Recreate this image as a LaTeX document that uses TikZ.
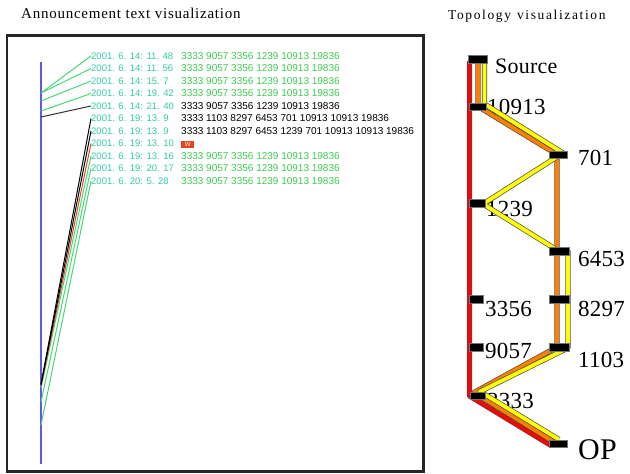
\documentclass[tikz,border=0pt]{standalone}
\usepackage{fontspec}
\setmainfont{Liberation Serif}
\newfontfamily\rowfont{Liberation Sans}
\newfontfamily\headfont[LetterSpace=5]{Liberation Serif}
\newfontfamily\topofont[LetterSpace=12]{Liberation Serif}
\newfontfamily\asfont[LetterSpace=1]{Liberation Serif}
\usetikzlibrary{calc}

\definecolor{datecol}{HTML}{2FCBA6}
\definecolor{routegreen}{HTML}{3CCB50}
\definecolor{linkgreen}{HTML}{44D874}
\definecolor{axisblue}{HTML}{5A5AF0}
\definecolor{wdred}{HTML}{E8431E}
\definecolor{bandred}{HTML}{FF0000}
\definecolor{bandorange}{HTML}{FF8000}
\definecolor{bandyellow}{HTML}{FFFF00}

\tikzset{
  datetext/.style={anchor=west, inner sep=0pt, text=datecol,
    font=\rowfont\fontsize{9.5}{10}\selectfont},
  routetext/.style={anchor=west, inner sep=0pt,
    font=\rowfont\fontsize{10}{10}\selectfont},
  greenroute/.style={routetext, text=routegreen},
  blackroute/.style={routetext, text=black},
  link/.style={line width=1pt},
  aslabel/.style={anchor=base west, inner sep=0pt,
    font=\asfont\fontsize{23}{23}\selectfont},
  asbox/.style={rectangle, fill=black, draw=black!55, line width=0.6pt,
    inner sep=0pt},
  band/.style={draw=black!70, line width=0.7pt, double distance=3.8pt,
    line join=round},
}

\begin{document}
\begin{tikzpicture}[x=1pt, y=-1pt]
\useasboundingbox (0,0) rectangle (630,474);

% ---------- headings ----------
\node[anchor=base west, inner sep=0pt, font=\headfont\fontsize{15}{15}\selectfont]
  (head1) at (21,18.3) {Announcement text visualization};
\node[anchor=base west, inner sep=0pt, font=\topofont\fontsize{13.5}{13.5}\selectfont]
  (head2) at (448,19.3) {Topology\hspace{6pt}visualization};

% ---------- announcement panel ----------
\draw[line width=2.6pt, black!85] (7,35.3) rectangle (423.5,471.5);

\coordinate (axtop) at (41,62);
\coordinate (axbot) at (41,464);
\draw[axisblue, line width=1.3pt] (axtop) -- (axbot);

% attachment points on the time axis
\coordinate (a1) at (41,93);
\coordinate (a2) at (41,93);
\coordinate (a3) at (41,101);
\coordinate (a4) at (41,111);
\coordinate (a5) at (41,117);
\coordinate (a6) at (41,384);
\coordinate (a7) at (41,385);
\coordinate (a8) at (41,386);
\coordinate (a9) at (41,388);
\coordinate (a10) at (41,402);
\coordinate (a11) at (41,425);

% announcement times
\node[datetext] (d1)  at (91,56)    {2001. 6. 14: 11. 48};
\node[datetext] (d2)  at (91,68.5)  {2001. 6. 14: 11. 56};
\node[datetext] (d3)  at (91,81)    {2001. 6. 14: 15. 7};
\node[datetext] (d4)  at (91,93.5)  {2001. 6. 14: 19. 42};
\node[datetext] (d5)  at (91,106)   {2001. 6. 14: 21. 40};
\node[datetext] (d6)  at (91,118.5) {2001. 6. 19: 13. 9};
\node[datetext] (d7)  at (91,131)   {2001. 6. 19: 13. 9};
\node[datetext] (d8)  at (91,143.5) {2001. 6. 19: 13. 10};
\node[datetext] (d9)  at (91,156)   {2001. 6. 19: 13. 16};
\node[datetext] (d10) at (91,168.5) {2001. 6. 19: 20. 17};
\node[datetext] (d11) at (91,181)   {2001. 6. 20: 5. 28};

% AS paths
\node[greenroute] (r1)  at (181,56)    {3333 9057 3356 1239 10913 19836};
\node[greenroute] (r2)  at (181,68.5)  {3333 9057 3356 1239 10913 19836};
\node[greenroute] (r3)  at (181,81)    {3333 9057 3356 1239 10913 19836};
\node[greenroute] (r4)  at (181,93.5)  {3333 9057 3356 1239 10913 19836};
\node[blackroute] (r5)  at (181,106)   {3333 9057 3356 1239 10913 19836};
\node[blackroute] (r6)  at (181,118.5) {3333 1103 8297 6453 701 10913 10913 19836};
\node[blackroute] (r7)  at (181,131)   {3333 1103 8297 6453 1239 701 10913 10913 19836};
\node[anchor=west, fill=wdred, inner sep=0pt, minimum width=13pt,
  minimum height=7pt, text=white, font=\rowfont\fontsize{6}{6}\selectfont]
  (r8) at (181,144.5) {W};
\node[greenroute] (r9)  at (181,156)   {3333 9057 3356 1239 10913 19836};
\node[greenroute] (r10) at (181,168.5) {3333 9057 3356 1239 10913 19836};
\node[greenroute] (r11) at (181,181)   {3333 9057 3356 1239 10913 19836};

% links from the time axis to each announcement
\draw[link, linkgreen] (a1) -- (d1.west);
\draw[link, linkgreen] (a2) -- (d2.west);
\draw[link, linkgreen] (a3) -- (d3.west);
\draw[link, linkgreen] (a4) -- (d4.west);
\draw[link, black!80] (a5) -- (d5.west);
\draw[link, linkgreen] (a9) -- (d9.west);
\draw[link, linkgreen] (a10) -- (d10.west);
\draw[link, linkgreen] (a11) -- (d11.west);
\draw[link, wdred] (a8) -- (d8.west);
\draw[link, black] (a7) -- (d7.west);
\draw[link, black] (a6) -- (d6.west);

% ---------- topology panel ----------
% AS labels
\node[aslabel] (lsrc) at (495,73.3) {\fontsize{22}{22}\selectfont Source};
\node[aslabel] (l10913) at (487,114) {10913};
\node[aslabel] (l701) at (578,165) {701};
\node[aslabel] (l1239) at (486,216) {1239};
\node[aslabel] (l6453) at (578,266) {6453};
\node[aslabel] (l3356) at (485,316) {3356};
\node[aslabel] (l8297) at (578,316) {8297};
\node[aslabel] (l9057) at (485,358.5) {9057};
\node[aslabel] (l1103) at (578,367) {1103};
\node[aslabel] (l3333) at (487,408) {3333};
\node[aslabel, font=\asfont\fontsize{30}{30}\selectfont] (lop) at (578,459) {OP};

% marker centres
\coordinate (csrc) at (477.5,59);
\coordinate (c10913) at (477.5,106.5);
\coordinate (c701) at (558,154.5);
\coordinate (c1239) at (477,203);
\coordinate (c6453) at (559,251);
\coordinate (c3356) at (476,299);
\coordinate (c8297) at (559,299);
\coordinate (c9057) at (476,347);
\coordinate (c1103) at (559,347);
\coordinate (c3333) at (477.5,395.5);
\coordinate (cop) at (558,443.5);

% red path: Source -> ... -> 3333 -> OP
\draw[band, double=bandred]
  ($(csrc)+(-8,2)$) -- ($(c3333)+(-8,0.5)$) -- ($(cop)+(-7,2)$);
% orange path: Source -> 10913 -> 701 -> 6453 -> 8297 -> 1103 -> 3333 -> OP
\draw[band, double=bandorange]
  ($(csrc)+(0.5,2)$) -- ($(c10913)+(0.5,0)$) -- ($(c701)+(-1,0)$)
  -- ($(c1103)+(-2,0)$) -- ($(c3333)+(-3.5,-3)$) -- ($(cop)+(-4,-1.5)$);
% yellow path: Source -> 10913 -> 701 -> 1239 -> 6453 -> 8297 -> 1103 -> 3333 -> OP
\draw[band, double=bandyellow]
  ($(csrc)+(7,2)$) -- ($(c10913)+(7,-2.5)$) -- ($(c701)+(5,-1.5)$)
  -- ($(c1239)+(6,1)$) -- ($(c6453)+(-2,-1)$) -- ($(c6453)+(9,0)$)
  -- ($(c1103)+(9,1)$) -- ($(c3333)+(2.5,-4)$) -- ($(cop)+(1,-4)$);

% AS markers
\node[asbox, minimum width=19pt, minimum height=8pt] (src) at (csrc) {};
\node[asbox, minimum width=17pt, minimum height=7pt] (as10913) at (c10913) {};
\node[asbox, minimum width=18pt, minimum height=7pt] (as701) at (c701) {};
\node[asbox, minimum width=16pt, minimum height=8pt] (as1239) at (c1239) {};
\node[asbox, minimum width=20pt, minimum height=8pt] (as6453) at (c6453) {};
\node[asbox, minimum width=14pt, minimum height=8pt] (as3356) at (c3356) {};
\node[asbox, minimum width=20pt, minimum height=8pt] (as8297) at (c8297) {};
\node[asbox, minimum width=14pt, minimum height=8pt] (as9057) at (c9057) {};
\node[asbox, minimum width=20pt, minimum height=8pt] (as1103) at (c1103) {};
\node[asbox, minimum width=15pt, minimum height=7pt] (as3333) at (c3333) {};
\node[asbox, minimum width=18pt, minimum height=7pt] (op) at (cop) {};
\end{tikzpicture}
\end{document}
